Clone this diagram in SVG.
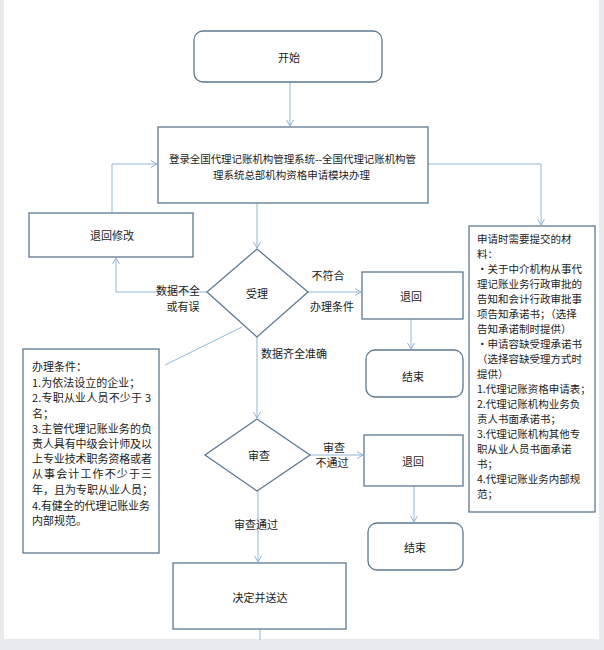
<svg xmlns="http://www.w3.org/2000/svg" width="604" height="650" viewBox="0 0 604 650">
<defs>
<marker id="arr" markerWidth="10" markerHeight="10" refX="7" refY="4" orient="auto" markerUnits="userSpaceOnUse">
<path d="M1,0.5 L7,4 L1,7.5" fill="none" stroke="#8fb3d4" stroke-width="1"/>
</marker>
<style>
.box{fill:#fff;stroke:#5e7892;stroke-width:1.3}
.con{fill:none;stroke:#93b6d6;stroke-width:1}
.t{font-family:"Noto Sans CJK SC","Liberation Sans",sans-serif;font-size:11px;fill:#1c1c1c;dominant-baseline:central}
.c{text-anchor:middle}
.s{font-size:10.5px}
</style>
</defs>
<rect x="0" y="0" width="604" height="650" fill="#e8eaed"/>
<rect x="4" y="0" width="595" height="639" fill="#ffffff"/>

<g id="connectors">
<path class="con" d="M290,82 V126" marker-end="url(#arr)"/>
<path class="con" d="M428,164 H541 V225" marker-end="url(#arr)"/>
<path class="con" d="M257,203 V248" marker-end="url(#arr)"/>
<path class="con" d="M308,292 H361" marker-end="url(#arr)"/>
<path class="con" d="M411,319 V349" marker-end="url(#arr)"/>
<path class="con" d="M207,292 H116 V258" marker-end="url(#arr)"/>
<path class="con" d="M112,213 V164 H157" marker-end="url(#arr)"/>
<path class="con" d="M257,337 V418" marker-end="url(#arr)"/>
<path class="con" d="M242,327 L165,365"/>
<path class="con" d="M310,455 H363" marker-end="url(#arr)"/>
<path class="con" d="M414,486 V522" marker-end="url(#arr)"/>
<path class="con" d="M258,491 V562" marker-end="url(#arr)"/>
<path class="con" d="M260,629 V640"/>
<text class="t c" x="328" y="275">不符合</text>
<text class="t c" x="332" y="306">办理条件</text>
<text class="t c" x="178" y="290">数据不全</text>
<text class="t c" x="183" y="306">或有误</text>
<text class="t c" x="294" y="353">数据齐全准确</text>
<text class="t c" x="334" y="447">审查</text>
<text class="t c" x="332" y="462">不通过</text>
<text class="t c" x="256" y="524">审查通过</text>
</g>

<g id="start">
<rect class="box" x="194" y="31" width="188" height="51" rx="9"/>
<text class="t c" x="289" y="57">开始</text>
</g>

<g id="login">
<rect class="box" x="158" y="127" width="270" height="76"/>
<text class="t s" x="169" y="158" textLength="247" lengthAdjust="spacing">登录全国代理记账机构管理系统--全国代理记账机构管</text>
<text class="t s" x="213" y="174" textLength="157" lengthAdjust="spacing">理系统总部机构资格申请模块办理</text>
</g>

<g id="return-modify">
<rect class="box" x="29" y="213" width="164" height="44"/>
<text class="t c" x="112" y="235">退回修改</text>
</g>

<g id="accept">
<polygon class="box" points="257,249 308,292 257,337 207,292"/>
<text class="t c" x="257" y="293">受理</text>
</g>

<g id="return1">
<rect class="box" x="362" y="272" width="101" height="47"/>
<text class="t c" x="411" y="296">退回</text>
</g>

<g id="end1">
<rect class="box" x="366" y="350" width="97" height="47" rx="9"/>
<text class="t c" x="413" y="376">结束</text>
</g>

<g id="materials">
<rect class="box" x="469" y="226" width="126" height="286"/>
<text class="t s" x="477" y="238">申请时需要提交的材</text>
<text class="t s" x="477" y="253">料：</text>
<text class="t s" x="477" y="268">•关于中介机构从事代</text>
<text class="t s" x="477" y="283">理记账业务行政审批的</text>
<text class="t s" x="477" y="298">告知和会计行政审批事</text>
<text class="t s" x="477" y="313">项告知承诺书；（选择</text>
<text class="t s" x="477" y="328">告知承诺制时提供）</text>
<text class="t s" x="477" y="343">•申请容缺受理承诺书</text>
<text class="t s" x="477" y="358">（选择容缺受理方式时</text>
<text class="t s" x="477" y="373">提供）</text>
<text class="t s" x="477" y="388">1.代理记账资格申请表；</text>
<text class="t s" x="477" y="403">2.代理记账机构业务负</text>
<text class="t s" x="477" y="418">责人书面承诺书；</text>
<text class="t s" x="477" y="433">3.代理记账机构其他专</text>
<text class="t s" x="477" y="448">职从业人员书面承诺</text>
<text class="t s" x="477" y="463">书；</text>
<text class="t s" x="477" y="478">4.代理记账业务内部规</text>
<text class="t s" x="477" y="493">范；</text>
</g>

<g id="conditions">
<rect class="box" x="23" y="349" width="136" height="204"/>
<text class="t" x="32" y="366">办理条件：</text>
<text class="t" x="32" y="382">1.为依法设立的企业；</text>
<text class="t" x="32" y="397" textLength="119" lengthAdjust="spacing">2.专职从业人员不少于 3</text>
<text class="t" x="32" y="413">名；</text>
<text class="t" x="32" y="428" textLength="120" lengthAdjust="spacing">3.主管代理记账业务的负</text>
<text class="t" x="32" y="443" textLength="120" lengthAdjust="spacing">责人具有中级会计师及以</text>
<text class="t" x="32" y="458" textLength="120" lengthAdjust="spacing">上专业技术职务资格或者</text>
<text class="t" x="32" y="473" textLength="120" lengthAdjust="spacing">从事会计工作不少于三</text>
<text class="t" x="32" y="489">年，且为专职从业人员；</text>
<text class="t" x="32" y="505" textLength="118" lengthAdjust="spacing">4.有健全的代理记账业务</text>
<text class="t" x="32" y="520">内部规范。</text>
</g>

<g id="review">
<polygon class="box" points="257,419 310,455 257,491 205,455"/>
<text class="t c" x="259" y="455">审查</text>
</g>

<g id="return2">
<rect class="box" x="364" y="435" width="99" height="51"/>
<text class="t c" x="413" y="461">退回</text>
</g>

<g id="end2">
<rect class="box" x="368" y="523" width="95" height="47" rx="9"/>
<text class="t c" x="415" y="547">结束</text>
</g>

<g id="decide">
<rect class="box" x="173" y="563" width="173" height="66"/>
<text class="t c" x="260" y="597">决定并送达</text>
</g>
</svg>
